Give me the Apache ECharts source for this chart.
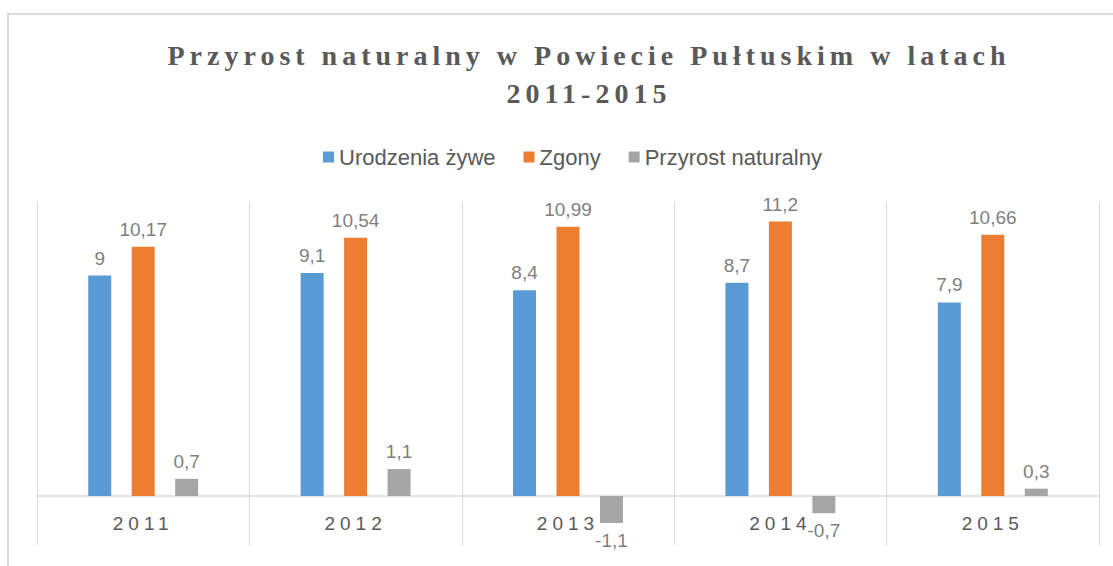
<!DOCTYPE html>
<html>
<head>
<meta charset="utf-8">
<script src="https://cdn.jsdelivr.net/npm/echarts@6/dist/echarts.min.js"></script>
<style>
  html, body { margin: 0; padding: 0; background: #fff; }
  #main { width: 1113px; height: 566px; }
</style>
</head>
<body>
<div id="main"></div>
<script>
var years = ['2011', '2012', '2013', '2014', '2015'];
var urodzenia = [9, 9.1, 8.4, 8.7, 7.9];
var zgony = [10.17, 10.54, 10.99, 11.2, 10.66];
var przyrost = [0.7, 1.1, -1.1, -0.7, 0.3];

var chart = echarts.init(document.getElementById('main'), null, { renderer: 'svg' });

function fmt(p) {
  return String(p.value).replace('.', ',');
}

var valueLabel = {
  show: true,
  position: 'top',
  distance: 8,
  color: '#7f7f7f',
  fontFamily: 'Liberation Sans',
  fontSize: 19,
  formatter: fmt
};

function withNeg(arr) {
  return arr.map(function (v) {
    return v < 0 ? { value: v, label: { position: 'bottom' } } : v;
  });
}

var option = {
  animation: false,
  color: ['#5b9bd5', '#ed7d31', '#a5a5a5'],
  title: {
    text: 'Przyrost naturalny w Powiecie Pułtuskim w latach\n2011-2015',
    left: 589,
    top: 36,
    textAlign: 'center',
    padding: 0,
    textStyle: {
      fontFamily: 'Liberation Serif',
      fontWeight: 'bold',
      fontSize: 28,
      lineHeight: 38,
      color: '#595959'
    }
  },
  legend: {
    data: ['Urodzenia żywe', 'Zgony', 'Przyrost naturalny'],
    left: 318,
    top: 141,
    icon: 'rect',
    itemWidth: 11,
    itemHeight: 11,
    itemGap: 28,
    textStyle: {
      fontFamily: 'Liberation Sans',
      fontSize: 22,
      color: '#595959'
    }
  },
  graphic: [{
    type: 'rect',
    shape: { x: 8, y: 14, width: 1200, height: 600 },
    style: { fill: 'none', stroke: '#d9d9d9', lineWidth: 2 },
    silent: true
  }],
  grid: { left: 37, right: 14, top: 202, bottom: 21, outerBoundsMode: 'none' },
  xAxis: {
    type: 'category',
    data: years,
    offset: -49,
    axisLine: { onZero: false, lineStyle: { color: '#d9d9d9', width: 1.5 } },
    axisTick: { show: false },
    axisLabel: {
      margin: 18,
      color: '#595959',
      fontFamily: 'Liberation Sans',
      fontSize: 19
    },
    splitLine: { show: true, lineStyle: { color: '#d9d9d9', width: 1 } }
  },
  yAxis: {
    type: 'value',
    min: -2,
    max: 12,
    interval: 2,
    axisLabel: { show: false },
    axisLine: { show: false },
    axisTick: { show: false },
    splitLine: { show: false }
  },
  series: [
    {
      name: 'Urodzenia żywe',
      type: 'bar',
      data: withNeg(urodzenia),
      barWidth: 23,
      barGap: '89%',
      label: valueLabel
    },
    {
      name: 'Zgony',
      type: 'bar',
      data: withNeg(zgony),
      barWidth: 23,
      barGap: '89%',
      label: valueLabel
    },
    {
      name: 'Przyrost naturalny',
      type: 'bar',
      data: withNeg(przyrost),
      barWidth: 23,
      barGap: '89%',
      label: valueLabel
    }
  ]
};

chart.setOption(option);

// spaced letters like in the original (title and year labels)
function spaceOut() {
  var texts = document.querySelectorAll('#main text');
  texts.forEach(function (t) {
    var s = t.textContent;
    if (s.indexOf('Powiecie') >= 0 || s === '2011-2015') {
      t.style.letterSpacing = '5px';
    } else if (/^20\d\d$/.test(s)) {
      t.style.letterSpacing = '5px';
    }
  });
}
chart.on('finished', spaceOut);
spaceOut();
</script>
</body>
</html>
